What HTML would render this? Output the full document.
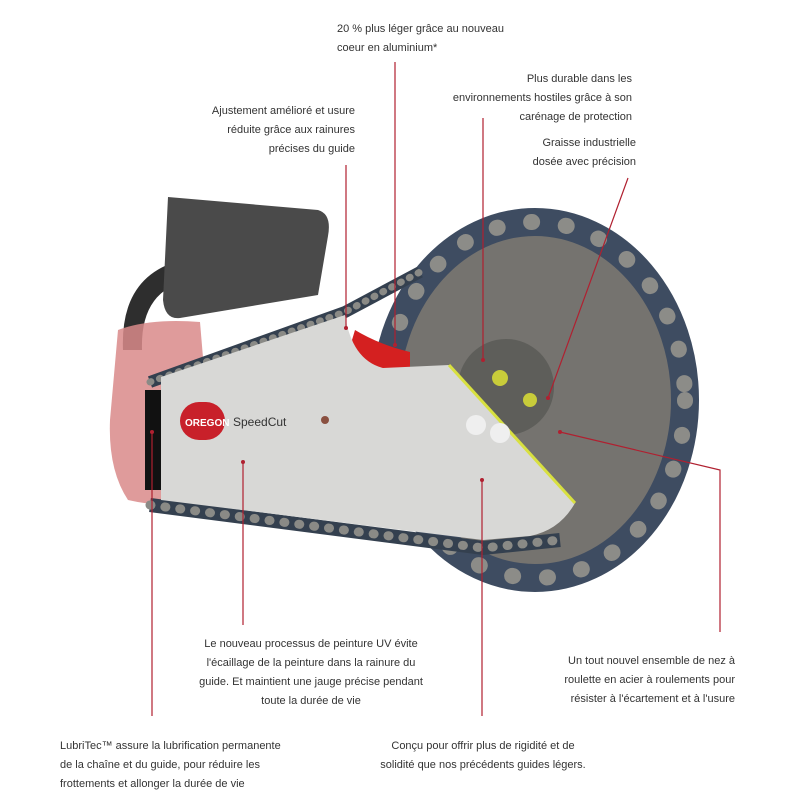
<!DOCTYPE html>
<html><head><meta charset="utf-8"><style>
body{margin:0;background:#fff;width:800px;height:800px;overflow:hidden}
svg{display:block}
text{font-family:"Liberation Sans",sans-serif;font-size:11px;fill:#333}
</style></head><body>
<svg width="800" height="800" viewBox="0 0 800 800">
<!-- handle -->
<path d="M123,350 Q120,280 175,262 L190,262 L190,280 Q140,290 142,350 Z" fill="#2e2e2e"/>
<path d="M168,197 L318,210 Q332,214 328,236 L318,295 L180,318 Q165,320 163,300 Z" fill="#4a4a4a"/>
<!-- pink housing -->
<path d="M118,330 Q150,318 200,322 L215,500 Q170,510 128,500 Q108,470 110,420 Z" fill="#d98a8a" opacity="0.85"/>
<rect x="145" y="390" width="20" height="100" fill="#111"/>
<!-- nose ring -->
<ellipse cx="535" cy="400" rx="140" ry="168" fill="#75736f"/>
<ellipse cx="535" cy="400" rx="150" ry="178" fill="none" stroke="#3e4c61" stroke-width="28"/>
<ellipse cx="535" cy="400" rx="150" ry="178" fill="none" stroke="#8c8c88" stroke-width="16" stroke-linecap="round" stroke-dasharray="1 34"/>
<circle cx="506" cy="387" r="48" fill="#5e5e5a"/>
<circle cx="500" cy="378" r="8" fill="#c8cc3a"/>
<circle cx="530" cy="400" r="7" fill="#c8cc3a"/>
<!-- top chain -->
<path d="M150,382 L345,312 L420,272" stroke="#34404f" stroke-width="12" fill="none"/>
<path d="M150,382 L345,312 L420,272" stroke="#8a8a86" stroke-width="7" fill="none" stroke-linecap="round" stroke-dasharray="1 9"/>
<!-- bottom chain -->
<path d="M150,505 L483,548 L560,540" stroke="#34404f" stroke-width="14" fill="none"/>
<path d="M150,505 L483,548 L560,540" stroke="#8a8a86" stroke-width="9" fill="none" stroke-linecap="round" stroke-dasharray="1 14"/>
<!-- red part -->
<path d="M355,330 Q380,345 410,352 L410,382 L385,392 Q362,375 352,340 Z" fill="#d42020"/>
<!-- bar -->
<path d="M161,377 L345,315 Q352,360 383,368 L449,365 L575,503 Q560,530 530,536 L483,540 L161,500 Z" fill="#d8d8d6"/>
<path d="M449,365 L575,503" stroke="#d8e040" stroke-width="3"/>
<rect x="180" y="402" width="45" height="38" rx="19" fill="#c8202a"/>
<text x="185" y="426" style="font-size:10px;fill:#fff;font-weight:bold">OREGON</text>
<text x="233" y="426" style="font-size:12px;fill:#333">SpeedCut</text>
<circle cx="325" cy="420" r="4" fill="#8a5040"/>
<circle cx="476" cy="425" r="10" fill="#efefef"/><circle cx="500" cy="433" r="10" fill="#efefef"/>
<!-- leader lines -->
<g stroke="#b02030" stroke-width="1.2" fill="none">
<path d="M395,62 V345"/>
<path d="M483,118 V360"/>
<path d="M346,165 V328"/>
<path d="M628,178 L548,398"/>
<path d="M243,462 V625"/>
<path d="M560,432 L720,470 V632"/>
<path d="M152,432 V716"/>
<path d="M482,480 V716"/>
</g>
<g fill="#b02030"><circle cx="395" cy="345" r="2"/><circle cx="483" cy="360" r="2"/><circle cx="346" cy="328" r="2"/><circle cx="548" cy="398" r="2"/><circle cx="243" cy="462" r="2"/><circle cx="560" cy="432" r="2"/><circle cx="152" cy="432" r="2"/><circle cx="482" cy="480" r="2"/></g>
<!-- labels -->
<text x="337" y="32">20 % plus léger grâce au nouveau</text>
<text x="337" y="51">coeur en aluminium*</text>
<g text-anchor="end">
<text x="632" y="82">Plus durable dans les</text>
<text x="632" y="101">environnements hostiles grâce à son</text>
<text x="632" y="120">carénage de protection</text>
<text x="355" y="114">Ajustement amélioré et usure</text>
<text x="355" y="133">réduite grâce aux rainures</text>
<text x="355" y="152">précises du guide</text>
<text x="636" y="146">Graisse industrielle</text>
<text x="636" y="165">dosée avec précision</text>
<text x="735" y="664">Un tout nouvel ensemble de nez à</text>
<text x="735" y="683">roulette en acier à roulements pour</text>
<text x="735" y="702">résister à l'écartement et à l'usure</text>
</g>
<g text-anchor="middle">
<text x="311" y="647">Le nouveau processus de peinture UV évite</text>
<text x="311" y="666">l'écaillage de la peinture dans la rainure du</text>
<text x="311" y="685">guide. Et maintient une jauge précise pendant</text>
<text x="311" y="704">toute la durée de vie</text>
<text x="483" y="749">Conçu pour offrir plus de rigidité et de</text>
<text x="483" y="768">solidité que nos précédents guides légers.</text>
</g>
<text x="60" y="749">LubriTec™ assure la lubrification permanente</text>
<text x="60" y="768">de la chaîne et du guide, pour réduire les</text>
<text x="60" y="787">frottements et allonger la durée de vie</text>
</svg>
</body></html>
